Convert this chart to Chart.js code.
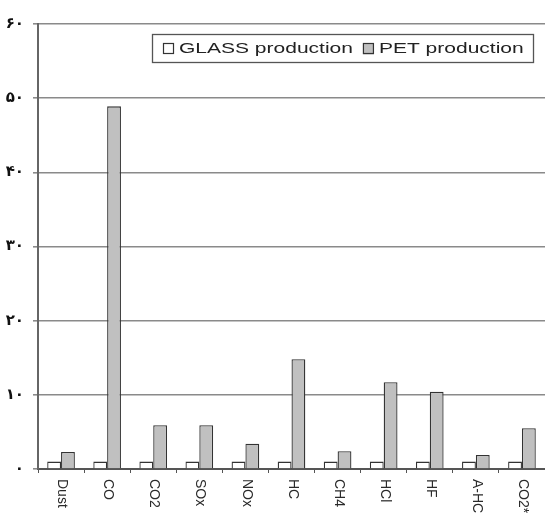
<!DOCTYPE html>
<html>
<head>
<meta charset="utf-8">
<script src="https://cdn.jsdelivr.net/npm/chart.js@4"></script>
<style>
  body { margin: 0; background: #fff; }
  #wrap { width: 545px; height: 518px; }
</style>
</head>
<body>
<div id="wrap"><canvas id="chart" width="545" height="518"></canvas></div>
<script>
const categories = ["Dust", "CO", "CO2", "SOx", "NOx", "HC", "CH4", "HCl", "HF", "A-HC", "CO2*"];
const glassValues = [1, 1, 1, 1, 1, 1, 1, 1, 1, 1, 1];
const petValues = [2.3, 48.9, 5.9, 5.9, 3.4, 14.8, 2.4, 11.7, 10.4, 1.9, 5.5];
const yTickLabels = ["۰", "۱۰", "۲۰", "۳۰", "۴۰", "۵۰", "۶۰"];

// x labels read top-to-bottom, so draw them ourselves at each tick
const verticalLabels = {
  id: "verticalLabels",
  afterDraw(chart) {
    const xScale = chart.scales.x;
    const ctx = chart.ctx;
    ctx.save();
    ctx.font = "14px 'Liberation Sans', Arial, sans-serif";
    ctx.fillStyle = "#2a2a2a";
    ctx.textAlign = "left";
    ctx.textBaseline = "middle";
    categories.forEach((label, i) => {
      const x = xScale.getPixelForTick(i);
      ctx.save();
      ctx.translate(x + 1, xScale.top + 10);
      ctx.rotate(Math.PI / 2);
      ctx.fillText(label, 0, 0);
      ctx.restore();
    });
    ctx.restore();
  }
};

// boxed legend inside the plot, text is a bit stretched like the original
const boxedLegend = {
  id: "boxedLegend",
  afterDraw(chart) {
    const ctx = chart.ctx;
    const left = 152, top = 34, w = 381, h = 28;
    const stretch = 1.4;
    ctx.save();
    ctx.strokeStyle = "#555";
    ctx.lineWidth = 1.3;
    ctx.strokeRect(left + 0.5, top + 0.5, w, h);
    ctx.font = "15px 'Liberation Sans', Arial, sans-serif";
    ctx.textBaseline = "middle";
    let x = left + 11;
    const cy = top + h / 2 + 1;
    chart.data.datasets.forEach((ds) => {
      ctx.fillStyle = ds.backgroundColor;
      ctx.fillRect(x, cy - 5.5, 11, 11);
      ctx.strokeStyle = "#333";
      ctx.lineWidth = 1.2;
      ctx.strokeRect(x + 0.5, cy - 5.5, 10, 10);
      x += 16;
      ctx.save();
      ctx.translate(x, cy);
      ctx.scale(stretch, 1);
      ctx.fillStyle = "#222";
      ctx.fillText(ds.label, 0, 0);
      ctx.restore();
      x += ctx.measureText(ds.label).width * stretch + 10;
    });
    ctx.restore();
  }
};

const ctx = document.getElementById("chart");

new Chart(ctx, {
  type: "bar",
  data: {
    labels: categories,
    datasets: [
      {
        label: "GLASS production",
        data: glassValues,
        backgroundColor: "#ffffff",
        borderColor: "#333",
        borderWidth: 1.3,
      },
      {
        label: "PET production",
        data: petValues,
        backgroundColor: "#c0c0c0",
        borderColor: "#333",
        borderWidth: 1.3,
      },
    ],
  },
  options: {
    responsive: false,
    animation: false,
    devicePixelRatio: 1,
    layout: { padding: { top: 24, right: 0, bottom: 0, left: 0 } },
    datasets: {
      bar: { barPercentage: 1, categoryPercentage: 0.6 },
    },
    plugins: {
      tooltip: { enabled: false },
      legend: { display: false },
    },
    scales: {
      x: {
        afterFit: (scale) => { scale.height = 49; },
        grid: {
          drawOnChartArea: false,
          drawTicks: true,
          tickLength: 4,
          color: "#555",
          offset: true,
        },
        border: { display: true, color: "#555", width: 2 },
        ticks: { display: false },
      },
      y: {
        min: 0,
        max: 60,
        afterFit: (scale) => { scale.width = 38; },
        ticks: {
          stepSize: 10,
          padding: 9,
          color: "#111",
          font: { family: "'DejaVu Sans', sans-serif", size: 15, weight: "bold" },
          callback: (value, index) => yTickLabels[index],
        },
        grid: { color: "#8a8a8a", lineWidth: 1.6, tickLength: 5 },
        border: { display: true, color: "#666", width: 2 },
      },
    },
  },
  plugins: [verticalLabels, boxedLegend],
});
</script>
</body>
</html>
